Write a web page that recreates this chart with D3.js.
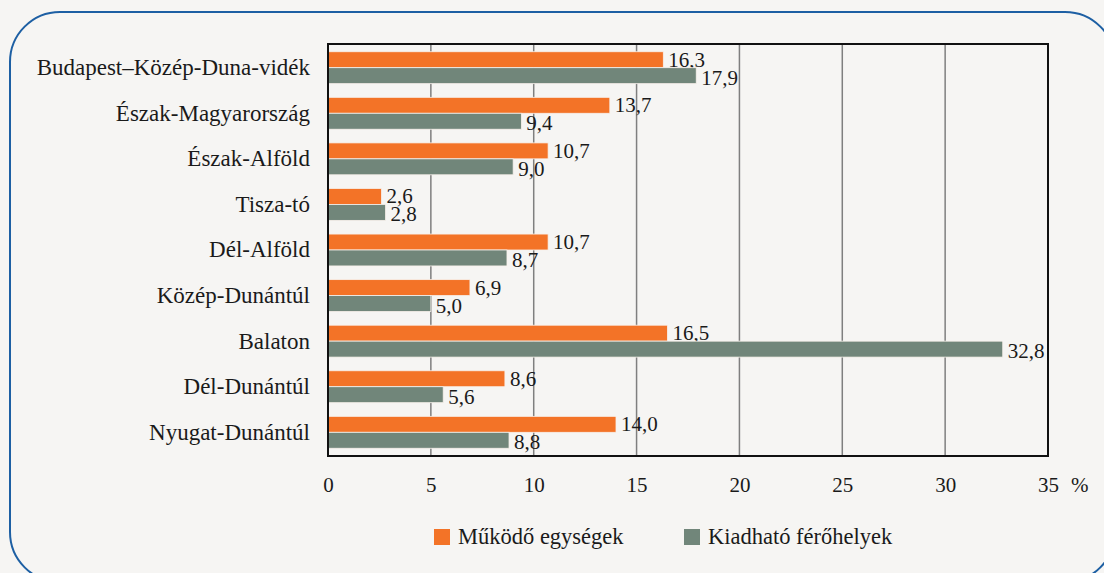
<!DOCTYPE html>
<html>
<head>
<meta charset="utf-8">
<script src="https://cdn.jsdelivr.net/npm/d3@7"></script>
<style>
  html, body { margin: 0; padding: 0; background: #f6f5f3; }
  svg { display: block; }
  svg text { font-family: 'Liberation Serif', 'Times New Roman', serif; }
</style>
</head>
<body>
<svg width="1104" height="573"></svg>
<script>
// régiók, felülről lefelé
var regions = ["Budapest–Közép-Duna-vidék", "Észak-Magyarország", "Észak-Alföld", "Tisza-tó",
  "Dél-Alföld", "Közép-Dunántúl", "Balaton", "Dél-Dunántúl", "Nyugat-Dunántúl"];
var seriesNames = ["Működő egységek", "Kiadható férőhelyek"];
var units = [16.3, 13.7, 10.7, 2.6, 10.7, 6.9, 16.5, 8.6, 14.0];     // működő egységek
var beds  = [17.9, 9.4, 9.0, 2.8, 8.7, 5.0, 32.8, 5.6, 8.8];         // kiadható férőhelyek
var ticks = [0, 5, 10, 15, 20, 25, 30, 35];

var color = { units: "#f37327", beds: "#71867a", grid: "#7f7f7f", text: "#1a1a1a" };
var plotLeft = 328, plotRight = 1048, plotTop = 44, plotBottom = 456;
var fontSize = 21;

var svg = d3.select("svg");

// keret
svg.append("rect")
  .attr("x", 10).attr("y", 12)
  .attr("width", 1105).attr("height", 570)
  .attr("rx", 50).attr("ry", 50)
  .attr("fill", "#f6f5f3")
  .attr("stroke", "#1d5fa3")
  .attr("stroke-width", 2);

var x = d3.scaleLinear().domain([0, 35]).range([plotLeft, plotRight]);
var y = d3.scaleBand().domain(regions).range([plotTop, plotBottom]).paddingInner(0.3).paddingOuter(0.17);
var ySub = d3.scaleBand().domain(["units", "beds"]).range([0, y.bandwidth()]);

// rácsvonalak
svg.append("g").selectAll("line")
  .data(ticks.slice(1, -1))
  .join("line")
  .attr("x1", d => x(d)).attr("x2", d => x(d))
  .attr("y1", plotTop).attr("y2", plotBottom)
  .attr("stroke", color.grid)
  .attr("stroke-width", 1.5);

// oszlopok
var rows = regions.map(function(r, i){ return { region: r, units: units[i], beds: beds[i] }; });

["units", "beds"].forEach(function(key){
  svg.append("g").selectAll("rect")
    .data(rows)
    .join("rect")
    .attr("x", x(0))
    .attr("y", d => y(d.region) + ySub(key))
    .attr("width", d => x(d[key]) - x(0))
    .attr("height", ySub.bandwidth())
    .attr("fill", color[key])
    .attr("stroke", "#f8f1ec")
    .attr("stroke-width", 0.8);

  // adatcímkék
  svg.append("g").selectAll("text")
    .data(rows)
    .join("text")
    .attr("x", d => x(d[key]) + 5)
    .attr("y", d => y(d.region) + ySub(key) + ySub.bandwidth() / 2 + (key == "beds" ? 9 : 7))
    .style("font-size", fontSize + "px")
    .attr("fill", color.text)
    .text(d => d3.format(".1f")(d[key]).replace(".", ","));
});

// keret a rajzterület körül
svg.append("rect")
  .attr("x", plotLeft).attr("y", plotTop)
  .attr("width", plotRight - plotLeft).attr("height", plotBottom - plotTop)
  .attr("fill", "none")
  .attr("stroke", "#111")
  .attr("stroke-width", 2);

// x tengely
var xAxis = svg.append("g")
  .attr("transform", "translate(0," + plotBottom + ")")
  .call(d3.axisBottom(x).tickValues(ticks).tickSize(0).tickPadding(21));
xAxis.select(".domain").remove();
xAxis.selectAll("text")
  .style("font-family", "'Liberation Serif', serif")
  .style("font-size", fontSize + "px")
  .attr("fill", color.text);

svg.append("text")
  .attr("x", x(35) + 23).attr("y", plotBottom + 36)
  .style("font-size", fontSize + "px")
  .attr("fill", color.text)
  .text("%");

// y tengely feliratai
var yAxis = svg.append("g")
  .attr("transform", "translate(" + plotLeft + ",0)")
  .call(d3.axisLeft(y).tickSize(0).tickPadding(18));
yAxis.select(".domain").remove();
yAxis.selectAll("text")
  .style("font-family", "'Liberation Serif', serif")
  .style("font-size", "23px")
  .attr("fill", color.text);

// jelmagyarázat
var legendX = [434, 684];
var legend = svg.append("g").selectAll("g")
  .data(seriesNames)
  .join("g")
  .attr("transform", (d, i) => "translate(" + legendX[i] + ",529)");
legend.append("rect")
  .attr("width", 16).attr("height", 16)
  .attr("fill", (d, i) => i == 0 ? color.units : color.beds);
legend.append("text")
  .attr("x", 24).attr("y", 15)
  .style("font-size", "22.5px")
  .attr("fill", color.text)
  .text(d => d);
</script>
</body>
</html>
